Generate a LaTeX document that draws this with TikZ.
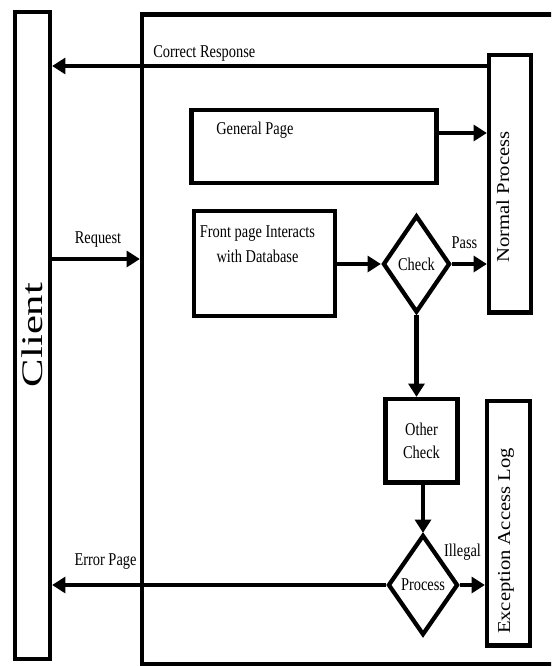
\documentclass[tikz,border=0pt]{standalone}
\usepackage{graphicx}
\usepackage{fontspec}
\setmainfont{Liberation Serif}
\usetikzlibrary{calc}
\usetikzlibrary{shapes.geometric}
\usetikzlibrary{arrows.meta}

\newcommand{\px}{0.75pt}
\newcommand{\sq}[1]{\scalebox{0.8}[1]{#1}}

\begin{document}
\begin{tikzpicture}[x=0.75pt, y=-0.75pt,
		box/.style={draw, line width=3.2pt, rectangle, inner sep=0pt},
		dia/.style={draw, line width=3.2pt, diamond, inner sep=0pt, font=\fontsize{13.5}{16}\selectfont},
		flow/.style={line width=3.2pt, -{Triangle[length=10pt,width=12pt]}},
		lbl/.style={inner sep=0pt, font=\fontsize{13.5}{16}\selectfont},
		side/.style={inner sep=0pt, rotate=90, font=\fontsize{15.5}{18}\selectfont}]
	\useasboundingbox (0,0) rectangle (551,667);
	\clip (0,0) rectangle (551,667);

	% client and the outer frame
	\node[box, minimum width=35*\px, minimum height=647*\px] (client) at (32.5,335.5) {};
	\node[inner sep=0pt, rotate=90, font=\fontsize{32}{36}\selectfont] (clienttxt) at (32,335) {\scalebox{1}[0.7]{Client}};
	\node[box, minimum width=478*\px, minimum height=649.5*\px] (frame) at (381,339.25) {};

	% boxes on the right
	\node[box, minimum width=42*\px, minimum height=257.5*\px] (normal) at (510,183.75) {};
	\node[side] (normaltxt) at (503,197) {\scalebox{1}[0.88]{Normal Process}};
	\node[box, minimum width=43*\px, minimum height=244.5*\px] (except) at (508.5,523.25) {};
	\node[side] (excepttxt) at (506,541) {\scalebox{1}[0.88]{Exception Access Log}};

	% pages
	\node[box, minimum width=245*\px, minimum height=73*\px] (general) at (314,146.5) {};
	\node[lbl, anchor=west] (generaltxt) at (216,130) {\sq{General Page}};
	\node[box, minimum width=141*\px, minimum height=105*\px] (front) at (264.5,263.5) {};
	\node[lbl, align=center, font=\fontsize{13.5}{18.5}\selectfont] (fronttxt) at (257.5,244) {\sq{Front page Interacts}\\\sq{with Database}};

	% checks
	\node[dia, minimum width=67*\px, minimum height=97*\px] (check) at (416.5,264) {\sq{Check}};
	\node[box, minimum width=72*\px, minimum height=83.5*\px, align=center, font=\fontsize{13.5}{17}\selectfont] (other) at (421.5,440.75) {\sq{Other}\\\sq{Check}};
	\node[dia, minimum width=70*\px, minimum height=100*\px] (proc) at (423,585) {\sq{Process}};

	% arrows
	\coordinate (crline) at (0,66);
	\coordinate (reqline) at (0,259);
	\coordinate (genline) at (0,133);
	\draw[flow] (crline -| normal.west) -- (crline -| client.east);
	\draw[flow] (reqline -| client.east) -- (reqline -| frame.west);
	\draw[flow] (genline -| general.east) -- (genline -| normal.west);
	\draw[flow] (check.west -| front.east) -- (check.west);
	\draw[flow] (check.east) -- (check.east -| normal.west);
	\draw[flow] (check.south) -- (check.south |- other.north);
	\draw[flow] (other.south -| proc.north) -- (proc.north);
	\draw[flow] (proc.east) -- (proc.east -| except.west);
	\draw[flow] (proc.west) -- (proc.west -| client.east);

	% labels on the arrows
	\node[lbl, anchor=west] (crtxt) at (153,53) {\sq{Correct Response}};
	\node[lbl] (reqtxt) at (98,240) {\sq{Request}};
	\node[lbl] (passtxt) at (464.5,243) {\sq{Pass}};
	\node[lbl] (illtxt) at (462.5,552) {\sq{Illegal}};
	\node[lbl] (errtxt) at (105.5,562) {\sq{Error Page}};
\end{tikzpicture}
\end{document}
